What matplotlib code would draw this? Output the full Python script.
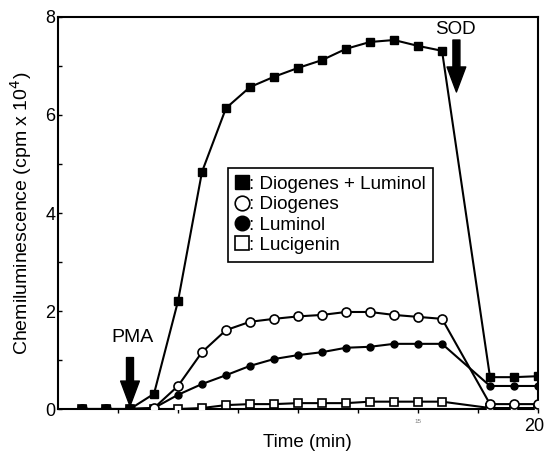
import matplotlib
matplotlib.use("Agg")
import matplotlib.pyplot as plt
from matplotlib.lines import Line2D

plt.rcParams['font.family'] = ['Liberation Sans', 'DejaVu Sans']

time = [1, 2, 3, 4, 5, 6, 7, 8, 9, 10, 11, 12, 13, 14, 15, 16, 18, 19, 20]
dio_lum = [0, 0, 0, 0.31, 2.2, 4.84, 6.14, 6.57, 6.78, 6.96, 7.12, 7.35, 7.49, 7.53, 7.41, 7.31, 0.65, 0.65, 0.67]
diogenes = [0, 0, 0, 0.02, 0.47, 1.16, 1.61, 1.78, 1.84, 1.89, 1.92, 1.98, 1.98, 1.92, 1.88, 1.84, 0.1, 0.1, 0.1]
luminol = [0, 0, 0, 0.02, 0.29, 0.51, 0.69, 0.88, 1.02, 1.1, 1.16, 1.25, 1.27, 1.33, 1.33, 1.33, 0.47, 0.47, 0.47]
lucigenin = [0, 0, 0, 0, 0, 0.02, 0.08, 0.1, 0.1, 0.12, 0.12, 0.12, 0.15, 0.15, 0.15, 0.15, 0.02, 0.02, 0.02]
labels = [': Diogenes + Luminol', ': Diogenes', ': Luminol', ': Lucigenin']

fig = plt.figure(figsize=(5.45, 4.53), dpi=100)
ax = fig.add_axes([0.1064, 0.0971, 0.8808, 0.8654])

lw = 1.5
ax.plot(time, lucigenin, color='black', lw=lw, marker='s', ms=6, mfc='white', mec='black', mew=1.2, zorder=3)
ax.plot(time, luminol, color='black', lw=lw, marker='o', ms=5, mfc='black', mec='black', zorder=4)
ax.plot(time, diogenes, color='black', lw=lw, marker='o', ms=6.5, mfc='white', mec='black', mew=1.2, zorder=5)
ax.plot(time, dio_lum, color='black', lw=lw, marker='s', ms=6, mfc='black', mec='black', zorder=6)

ax.set_xlim(0, 20)
ax.set_ylim(0, 8)

ax.set_yticks([0, 2, 4, 6, 8])
ax.set_yticklabels(['0', '2', '4', '6', '8'], fontsize=13)
ax.set_yticks([1, 3, 5, 7], minor=True)
ax.tick_params(axis='y', which='both', direction='in', length=3, width=1, pad=2)

ax.set_xticks([2.5, 5, 7.5, 10, 12.5, 15, 17.5, 20])
ax.set_xticklabels(['', '', '', '', '', '15', '', ''], fontsize=4.5, color='#777777')
ax.tick_params(axis='x', which='both', direction='out', length=3, width=1, pad=4)
ax.text(19.85, -0.18, '20', fontsize=13, ha='center', va='top', transform=ax.transData)

for s in ax.spines.values():
    s.set_linewidth(1.5)
    s.set_color('black')

ax.set_xlabel('Time (min)', fontsize=13.5)
ax.xaxis.set_label_coords(0.52, -0.064)
ax.xaxis.label.set_va('top')
ax.set_ylabel('Chemiluminescence (cpm x 10$^4$)', fontsize=14)
ax.yaxis.set_label_coords(-0.05, 0.5)

# arrows
style = 'simple,head_length=1.0,head_width=0.75,tail_width=0.28'
ax.annotate('', xy=(3, 0.06), xytext=(3, 1.05),
            arrowprops=dict(arrowstyle=style, color='black', mutation_scale=18, shrinkA=0, shrinkB=0))
ax.text(3.1, 1.45, 'PMA', fontsize=14, ha='center', va='center')
ax.annotate('', xy=(16.6, 6.47), xytext=(16.6, 7.53),
            arrowprops=dict(arrowstyle=style, color='black', mutation_scale=18, shrinkA=0, shrinkB=0))
ax.text(16.55, 7.74, 'SOD', fontsize=13.5, ha='center', va='center')

handles = [
    Line2D([], [], ls='none', marker='s', ms=10, mfc='black', mec='black'),
    Line2D([], [], ls='none', marker='o', ms=10.5, mfc='white', mec='black', mew=1.2),
    Line2D([], [], ls='none', marker='o', ms=10.5, mfc='black', mec='black'),
    Line2D([], [], ls='none', marker='s', ms=9.5, mfc='white', mec='black', mew=1.2),
]
leg = ax.legend(handles, labels, loc='upper left', bbox_to_anchor=(0.354, 0.615),
                borderaxespad=0, fontsize=13.6, handlelength=0.7, handletextpad=0.0,
                labelspacing=0.17, borderpad=0.4, fancybox=False, framealpha=1,
                edgecolor='black')
leg.get_frame().set_linewidth(1.2)

fig.savefig('out.png', dpi=100)
